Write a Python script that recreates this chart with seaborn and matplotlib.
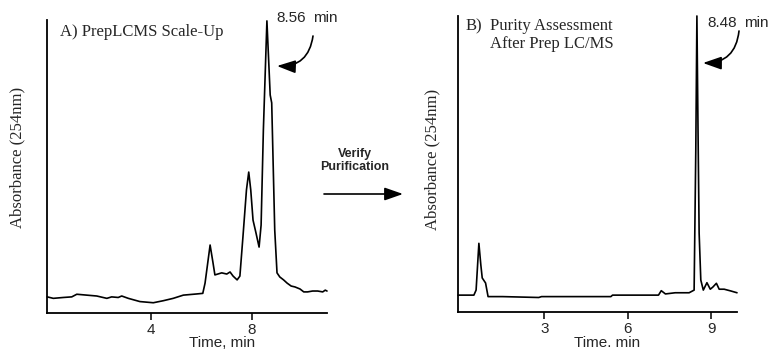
import numpy as np
import pandas as pd
import matplotlib
matplotlib.use("Agg")
import matplotlib.pyplot as plt
import seaborn as sns

# --- Chromatogram A: PrepLCMS scale-up (time in min, relative absorbance) ---
time_a = [-0.11, 0.13, 0.53, 0.86, 1.06, 1.45, 1.85, 2.25, 2.44, 2.70, 2.84, 3.10,
          3.56, 4.09, 4.49, 4.88, 5.28, 5.81, 6.05, 6.14, 6.34, 6.45, 6.53,
          6.8, 7.0, 7.13, 7.25, 7.41, 7.52, 7.64, 7.78, 7.87, 7.95, 8.04, 8.15, 8.28,
          8.36, 8.45, 8.59, 8.72, 8.78, 8.9, 8.99, 9.1, 9.25, 9.39, 9.55, 9.7, 9.9,
          10.05, 10.2, 10.4, 10.6, 10.8, 10.9, 10.97]
abs_a = [0.055, 0.050, 0.053, 0.055, 0.064, 0.061, 0.058, 0.050, 0.055, 0.053, 0.058,
         0.050, 0.039, 0.035, 0.042, 0.050, 0.061, 0.065, 0.067, 0.102, 0.232, 0.174,
         0.130, 0.137, 0.133, 0.140, 0.126, 0.113, 0.126,
         0.259, 0.420, 0.481, 0.420, 0.317, 0.276, 0.225, 0.300, 0.625, 0.997, 0.744,
         0.717, 0.283, 0.137, 0.123, 0.113, 0.102, 0.092, 0.089, 0.082, 0.072, 0.072,
         0.075, 0.075, 0.072, 0.078, 0.075]

# --- Chromatogram B: purity assessment after prep LC/MS ---
time_b = [-0.10, 0.47, 0.55, 0.65, 0.72, 0.77, 0.89, 0.98, 1.5, 2.8, 2.9, 5.39, 5.45,
          7.1, 7.2, 7.35, 7.7, 8.2, 8.38, 8.44, 8.48, 8.52, 8.56, 8.62, 8.71, 8.84,
          8.96, 9.05, 9.18, 9.28, 9.46, 9.7, 9.92]
abs_b = [0.057, 0.057, 0.074, 0.232, 0.159, 0.115, 0.098, 0.052, 0.052, 0.049, 0.052,
         0.052, 0.057, 0.057, 0.072, 0.061, 0.065, 0.065, 0.074, 0.547, 1.0, 0.615,
         0.267, 0.108, 0.074, 0.099, 0.077, 0.084, 0.097, 0.077, 0.077, 0.071, 0.065]

ticks_a = [4, 8]
ticks_b = [3, 6, 9]

df_a = pd.DataFrame({"time": time_a, "absorbance": abs_a})
df_b = pd.DataFrame({"time": time_b, "absorbance": abs_b})

sns.set_style("ticks")
plt.rcParams["font.family"] = ["Liberation Sans", "DejaVu Sans"]
serif = ["Liberation Serif", "DejaVu Serif"]

W, H = 768, 350
fig = plt.figure(figsize=(W / 100, H / 100), dpi=100)
ax_a = fig.add_axes([47 / W, 1 - 313 / H, 280 / W, 293 / H])
ax_b = fig.add_axes([458 / W, 1 - 312 / H, 279 / W, 296 / H])

for ax, df, xlim, ticks in [(ax_a, df_a, (-0.12, 10.97), ticks_a),
                            (ax_b, df_b, (-0.10, 9.92), ticks_b)]:
    sns.lineplot(data=df, x="time", y="absorbance", ax=ax, color="black",
                 linewidth=1.2, estimator=None, sort=False, clip_on=False)
    ax.set_xlim(*xlim)
    ax.set_ylim(0, 1.0)
    ax.set_xticks(ticks)
    ax.set_yticks([])
    ax.set_xlabel("")
    ax.set_ylabel("")
    ax.tick_params(axis="x", length=5, width=1.1, pad=2, labelsize=11, color="black")
    for s in ["left", "bottom"]:
        ax.spines[s].set_linewidth(1.3)
        ax.spines[s].set_color("black")
    sns.despine(ax=ax)
    ax.set_facecolor("none")

# axis labels
fig.text(17 / W, 1 - 157 / H, "Absorbance (254nm)", rotation=90, ha="center",
         va="center", fontsize=12, family=serif)
fig.text(432 / W, 1 - 159 / H, "Absorbance (254nm)", rotation=90, ha="center",
         va="center", fontsize=12, family=serif)
fig.text(222 / W, 1 - 343 / H, "Time, min", ha="center", va="center", fontsize=11)
fig.text(607 / W, 1 - 343 / H, "Time. min", ha="center", va="center", fontsize=11)

# panel titles
fig.text(60 / W, 1 - 32 / H, "A) PrepLCMS Scale-Up", ha="left", va="center",
         fontsize=12, family=serif)
fig.text(466 / W, 1 - 26 / H, "B)", ha="left", va="center", fontsize=12, family=serif)
fig.text(490 / W, 1 - 26 / H, "Purity Assessment", ha="left", va="center",
         fontsize=12, family=serif)
fig.text(490 / W, 1 - 44 / H, "After Prep LC/MS", ha="left", va="center",
         fontsize=12, family=serif)

# peak annotations (number and unit set apart as in the original)
fig.text(276 / W, 1 - 18 / H, "8.56", ha="left", va="center", fontsize=11)
fig.text(313 / W, 1 - 18 / H, "min", ha="left", va="center", fontsize=11)
fig.text(707 / W, 1 - 23 / H, "8.48", ha="left", va="center", fontsize=11)
fig.text(744 / W, 1 - 23 / H, "min", ha="left", va="center", fontsize=11)
arrow = dict(arrowstyle="-|>,head_length=0.8,head_width=0.28", color="black",
             lw=1.2, mutation_scale=14, shrinkA=0, shrinkB=0)
fig.add_artist(plt.matplotlib.patches.FancyArrowPatch(
    (313 / W, 1 - 36 / H), (277 / W, 1 - 66 / H), transform=fig.transFigure,
    connectionstyle="arc3,rad=-0.45", **arrow))
fig.add_artist(plt.matplotlib.patches.FancyArrowPatch(
    (739 / W, 1 - 31 / H), (703 / W, 1 - 63 / H), transform=fig.transFigure,
    connectionstyle="arc3,rad=-0.45", **arrow))

# middle step arrow
fig.text(355 / W, 1 - 160.5 / H, "Verify\nPurification", ha="center", va="center",
         fontsize=9, fontweight="bold", linespacing=1.1)
fig.add_artist(plt.matplotlib.patches.FancyArrowPatch(
    (324 / W, 1 - 194 / H), (403 / W, 1 - 194 / H), transform=fig.transFigure,
    **arrow))

fig.savefig("out.png", dpi=100, facecolor="white")
